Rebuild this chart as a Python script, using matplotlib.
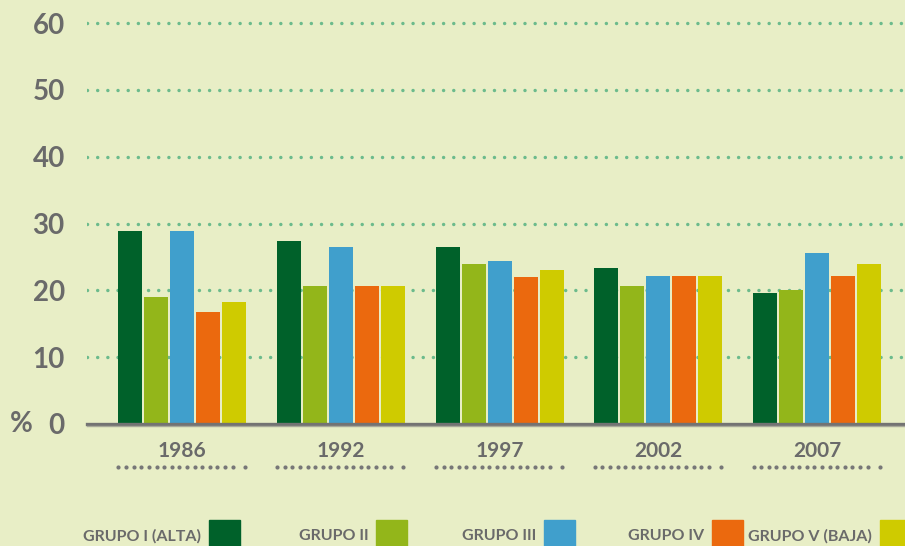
import matplotlib
matplotlib.use("Agg")
import matplotlib.pyplot as plt
from matplotlib.patches import Rectangle
import numpy as np

years = ["1986", "1992", "1997", "2002", "2007"]
series = ["GRUPO I (ALTA)", "GRUPO II", "GRUPO III", "GRUPO IV", "GRUPO V (BAJA)"]
grupo_i = [28.9, 27.4, 26.5, 23.4, 19.6]
grupo_ii = [19.0, 20.7, 24.0, 20.7, 20.1]
grupo_iii = [28.9, 26.5, 24.4, 22.2, 25.6]
grupo_iv = [16.8, 20.7, 22.0, 22.2, 22.2]
grupo_v = [18.3, 20.7, 23.0, 22.2, 24.0]
values = [grupo_i, grupo_ii, grupo_iii, grupo_iv, grupo_v]
yticks = [0, 10, 20, 30, 40, 50, 60]

colors = ["#00612a", "#93b61a", "#409fcc", "#eb690e", "#cfcb00"]
bg = "#e8eec6"
gray = "#6a6a6a"
grid_c = "#6cbb8c"

plt.rcParams['font.family'] = ['Lato', 'DejaVu Sans']
plt.rcParams['font.weight'] = 'bold'

W, H = 905, 546
fig = plt.figure(figsize=(W / 100, H / 100), dpi=100, facecolor=bg)
ymax = 62.5
px_per_unit = 6.683
ax_h = ymax * px_per_unit
ax = fig.add_axes([87 / W, (H - 424) / H, (905 - 87) / W, ax_h / H])
ax.set_facecolor(bg)

gstep = 158.75
x0 = -(182 - 87) / gstep
x1 = (905 - 182) / gstep
ax.set_xlim(x0, x1)
ax.set_ylim(0, ymax)

step = 26 / gstep
width = 24 / gstep
x = np.arange(len(years))
for i, (vals, c) in enumerate(zip(values, colors)):
    ax.bar(x + (i - 2) * step, vals, width=width, color=c, zorder=3, linewidth=0)

for t in yticks[1:]:
    ax.axhline(t, color=grid_c, linewidth=2.5, linestyle=(0, (0.01, 2.92)),
               dash_capstyle='round', zorder=1)
ax.axhline(0, color="#737373", linewidth=2.4, zorder=4, clip_on=False)
ax.axhline(-0.28, color="#a8a99a", linewidth=1.0, zorder=4, clip_on=False)

for s in ax.spines.values():
    s.set_visible(False)

ax.set_yticks(yticks)
ax.set_yticklabels([str(t) for t in yticks], fontsize=20, color=gray, fontweight='bold')
ax.tick_params(axis='y', length=0, pad=16)
ax.set_xticks(x)
ax.set_xticklabels(years, fontsize=15, color=gray, fontweight='bold')
ax.tick_params(axis='x', length=0, pad=12)

fig.text(10 / W, 1 - 424 / H, "%", fontsize=20, color=gray, fontweight='bold',
         ha='left', va='center')

# dotted separators under year labels
ydot = -(467 - 424) / px_per_unit
for xi in x:
    left = xi - 2 * step - width / 2
    right = xi + 2 * step + width / 2
    xs = left + 0.5 / gstep + np.arange(16) * (7.6 / gstep)
    xs = np.append(xs, right - 1.5 / gstep)
    ax.plot(xs, [ydot] * len(xs), linestyle='none', marker='o', markersize=3.0,
            color="#777777", clip_on=False, markeredgewidth=0)

# legend
text_right = [201, 369, 536, 704, 872]
sq_left = [209, 376, 544, 712, 880]
for name, c, tr, sl in zip(series, colors, text_right, sq_left):
    fig.text(tr / W, 1 - 536 / H, name, fontsize=11.5, color=gray, fontweight='bold',
             ha='right', va='center')
    fig.patches.append(Rectangle((sl / W, 0), 31 / W, (H - 520) / H,
                                 transform=fig.transFigure, color=c, figure=fig))

fig.savefig("out.png", dpi=100, facecolor=bg)
